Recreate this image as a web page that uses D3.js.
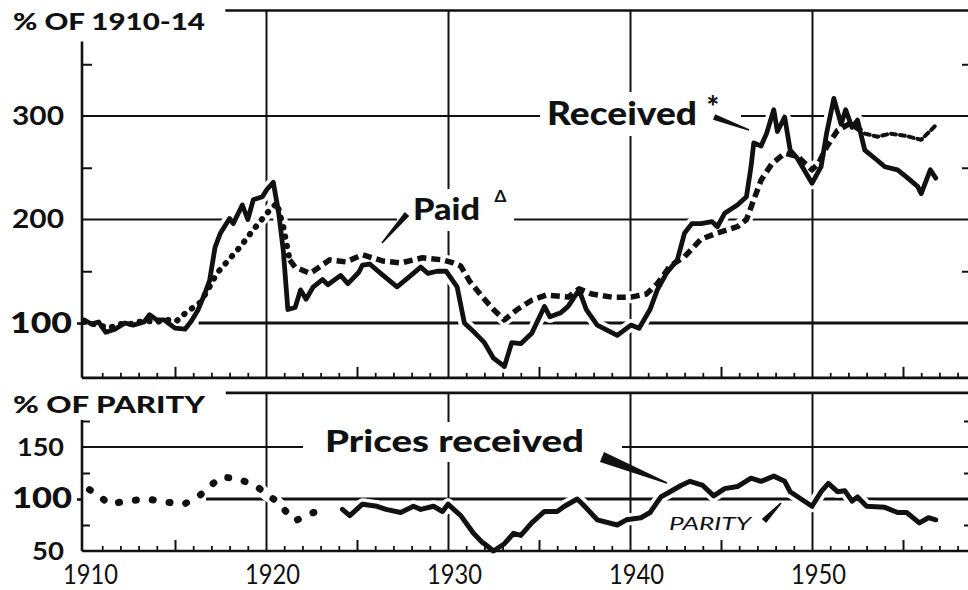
<!DOCTYPE html>
<html>
<head>
<meta charset="utf-8">
<script src="https://cdn.jsdelivr.net/npm/d3@7"></script>
<style>
  body { margin: 0; background: #fff; }
  svg { display: block; }
</style>
</head>
<body>
<script>
var w = 968, h = 590;
var FONT = "Lato, 'DejaVu Sans', sans-serif";
var INK = "#111";

// prices received by farmers, % of 1910-14
var receivedYears = [1910.0,1910.4,1910.8,1911.2,1911.7,1912.25,1912.7,1913.3,1913.6,1914.0,1914.4,1915.0,1915.55,1915.9,1916.25,1916.65,1916.9,1917.2,1917.5,1918.0,1918.2,1918.7,1919.0,1919.3,1919.8,1920.05,1920.4,1920.7,1920.95,1921.2,1921.6,1921.9,1922.2,1922.6,1923.1,1923.4,1924.1,1924.5,1925.1,1925.3,1925.7,1926.3,1927.2,1927.9,1928.5,1928.9,1929.4,1929.9,1930.5,1930.9,1931.5,1932.0,1932.5,1933.1,1933.5,1934.0,1934.6,1935.3,1935.6,1936.2,1936.6,1937.2,1937.6,1938.2,1939.3,1940.05,1940.5,1941.1,1941.5,1942.0,1942.6,1943.0,1943.4,1943.9,1944.5,1944.8,1945.2,1945.9,1946.4,1946.65,1946.8,1947.2,1947.5,1947.9,1948.1,1948.5,1948.8,1949.2,1950.0,1950.5,1950.8,1951.2,1951.6,1951.85,1952.2,1952.5,1952.9,1953.6,1954.0,1954.7,1955.2,1955.8,1956.0,1956.5,1956.8];
var receivedIdx = [103,99,101,91,94,100,98,101,108,103,103,95,94,102,112,129,141,173,187,201,196,214,200,219,222,229,236,206,170,113,115,132,123,135,142,137,146,138,149,156,157,148,135,145,154,148,150,150,135,100,90,81,66,58,81,80,90,116,106,110,116,132,113,98,88,98,95,113,132,148,161,187,196,196,198,193,206,214,222,251,274,271,283,306,285,299,267,259,235,251,283,317,292,306,289,296,267,257,251,248,241,232,225,248,240];

// prices paid by farmers, % of 1910-14
var paidYears = [1910.0,1910.5,1911.0,1911.5,1912.0,1912.5,1913.0,1913.5,1914.0,1914.6,1915.1,1915.6,1916.4,1916.9,1917.3,1917.8,1918.6,1919.3,1920.05,1920.6,1920.95,1921.3,1921.6,1922.4,1922.6,1923.5,1924.4,1925.3,1926.4,1927.4,1928.6,1929.7,1930.3,1930.7,1931.2,1931.9,1932.5,1933.1,1933.8,1934.6,1935.4,1936.6,1937.2,1937.9,1939.0,1940.05,1940.9,1941.5,1942.2,1943.0,1943.9,1944.8,1945.9,1946.4,1946.8,1947.2,1947.8,1948.5,1949.2,1950.0,1950.35,1950.8,1951.4,1952.1,1952.9,1953.6,1954.3,1955.1,1956.0,1956.8];
var paidIdx = [101,99,97,96,99,99,101,102,101,103,102,110,120,135,148,158,174,190,206,216,193,161,154,148,150,161,159,166,160,158,163,161,158,155,140,125,113,103,113,122,127,125,133,128,125,125,128,138,155,164,181,187,193,200,219,238,254,264,261,248,254,270,286,293,283,280,283,281,277,291];

// prices received as % of parity
var parityYears = [1910.3,1910.9,1911.4,1912.3,1913.5,1914.5,1915.5,1916.4,1916.9,1917.5,1918.4,1919.5,1920.05,1920.5,1921.15,1921.6,1922.6,1923.5,1924.2,1924.6,1925.3,1926.1,1926.6,1927.4,1928.1,1928.5,1929.2,1929.7,1930.0,1930.7,1931.4,1931.9,1932.0,1932.5,1933.1,1933.6,1934.0,1934.6,1935.3,1936.0,1936.4,1937.1,1937.4,1938.2,1939.3,1939.8,1940.6,1941.1,1941.7,1942.2,1942.8,1943.3,1944.0,1944.6,1945.2,1945.9,1946.65,1947.2,1947.9,1948.5,1948.8,1949.4,1950.0,1950.5,1950.9,1951.4,1951.8,1952.2,1952.5,1953.0,1954.0,1954.7,1955.2,1955.9,1956.4,1956.8];
var parityPct = [109,102,95,98,100,97,95,104,112,121,120,112,104,99,87,79,87,89,90,84,95,93,90,87,93,90,93,88,95,84,67,58,57,50,57,67,65,77,88,88,93,100,95,80,75,80,82,87,102,107,113,117,113,103,110,112,120,117,122,117,107,100,93,107,115,107,108,98,102,93,92,87,87,77,82,80];

var decades = [1910, 1920, 1930, 1940, 1950];
var indexTicks = [100, 200, 300];
var indexMinor = [150, 250, 350];
var parityTicks = [50, 100, 150];
var parityMinor = [75, 125, 175];

var x = d3.scaleLinear().domain([1910, 1950]).range([84, 812]);
var yTop = d3.scaleLinear().domain([100, 300]).range([323, 116]);
var yBot = d3.scaleLinear().domain([50, 150]).range([551, 447]);

var X0 = x(1910) - 2;
var topPanel = {y: yTop, min: 47, max: 402, axisTop: 372};
var botPanel = {y: yBot, min: 50, max: 202, axisTop: 176};

var years = d3.range(1910, 1959);

var svg = d3.select("body").append("svg")
  .attr("width", w)
  .attr("height", h);

var gGrid = svg.append("g");
var gBg = svg.append("g");
var gHalo = svg.append("g");
var gAxis = svg.append("g");
var gLines = svg.append("g");
var gText = svg.append("g");

function pairs(xs, vs) {
  return xs.map(function (d, i) { return [d, vs[i]]; });
}
function between(data, a, b) {
  return data.filter(function (d) { return d[0] >= a && d[0] <= b; });
}

function drawFrame(p) {
  var yb = p.y(p.min), yt = p.y(p.max);
  // vertical decade grid
  gGrid.append("g")
    .attr("transform", "translate(0," + yb + ")")
    .call(d3.axisBottom(x).tickValues(decades.slice(1)).tickSize(-(yb - yt)).tickFormat(""))
    .call(function (g) { g.select(".domain").remove(); })
    .selectAll("line").attr("stroke", INK).attr("stroke-width", 2);
  // left axis line
  gAxis.append("line")
    .attr("x1", X0).attr("x2", X0)
    .attr("y1", p.y(p.axisTop)).attr("y2", yb)
    .attr("stroke", INK).attr("stroke-width", 2.6);
  // bottom axis line
  gAxis.append("line")
    .attr("x1", X0).attr("x2", w)
    .attr("y1", yb).attr("y2", yb)
    .attr("stroke", INK).attr("stroke-width", 2.6);
  // yearly ticks
  gAxis.append("g")
    .attr("transform", "translate(0," + yb + ")")
    .call(d3.axisBottom(x).tickValues(years.filter(function (d) { return d % 5 !== 0; })).tickSize(-5).tickFormat(""))
    .call(function (g) { g.select(".domain").remove(); })
    .selectAll("line").attr("stroke", INK).attr("stroke-width", 1.8);
  gAxis.append("g")
    .attr("transform", "translate(0," + yb + ")")
    .call(d3.axisBottom(x).tickValues(years.filter(function (d) { return d % 10 === 5; })).tickSize(-11).tickFormat(""))
    .call(function (g) { g.select(".domain").remove(); })
    .selectAll("line").attr("stroke", INK).attr("stroke-width", 2);
}

drawFrame(topPanel);
drawFrame(botPanel);

// horizontal grid
function hGrid(p, v, from) {
  gGrid.append("line")
    .attr("x1", from).attr("x2", w)
    .attr("y1", p.y(v)).attr("y2", p.y(v))
    .attr("stroke", INK).attr("stroke-width", v === 100 ? 2.8 : 2);
}
hGrid(topPanel, 300, X0);
hGrid(topPanel, 200, X0);
hGrid(topPanel, 100, x(1916.3));
hGrid(botPanel, 150, X0);
hGrid(botPanel, 100, x(1916.7));

// minor ticks, left (inward) and right edge
function minorTicks(p, vals, len) {
  gAxis.append("g")
    .attr("transform", "translate(" + X0 + ",0)")
    .call(d3.axisLeft(p.y).tickValues(vals).tickSize(-len).tickFormat(""))
    .call(function (g) { g.select(".domain").remove(); })
    .selectAll("line").attr("stroke", INK).attr("stroke-width", 2);
  gAxis.append("g")
    .attr("transform", "translate(" + (w + 4) + ",0)")
    .call(d3.axisRight(p.y).tickValues(vals).tickSize(-len).tickFormat(""))
    .call(function (g) { g.select(".domain").remove(); })
    .selectAll("line").attr("stroke", INK).attr("stroke-width", 2);
  gAxis.append("g")
    .attr("transform", "translate(" + X0 + ",0)")
    .call(d3.axisLeft(p.y).tickValues([100]).tickSize(5).tickFormat(""))
    .call(function (g) { g.select(".domain").remove(); })
    .selectAll("line").attr("stroke", INK).attr("stroke-width", 2.6);
}
minorTicks(topPanel, indexMinor, 10);
minorTicks(botPanel, parityMinor, 8);

// y labels
function yLabels(p, vals, size, lens) {
  gText.append("g")
    .attr("transform", "translate(" + X0 + ",0)")
    .call(d3.axisLeft(p.y).tickValues(vals).tickSize(0).tickPadding(18))
    .call(function (g) { g.select(".domain").remove(); })
    .selectAll("text")
    .attr("fill", INK)
    .attr("font-family", FONT)
    .attr("font-size", function (d) { return d === 100 ? size + 3 : size; })
    .attr("font-weight", function (d) { return d === 100 ? 900 : 700; })
    .attr("x", function (d) { return d === 100 ? -10 : -18; })
    .attr("textLength", function (d, i) { return lens[i]; })
    .attr("lengthAdjust", "spacingAndGlyphs");
}
yLabels(topPanel, indexTicks, 26, [62, 52, 52]);
yLabels(botPanel, parityTicks, 25, [32, 60, 47]);

// x labels
gText.append("g")
  .attr("transform", "translate(0," + yBot(50) + ")")
  .call(d3.axisBottom(x).tickValues(decades).tickSize(0).tickPadding(15).tickFormat(d3.format("d")))
  .call(function (g) { g.select(".domain").remove(); })
  .selectAll("text")
  .attr("fill", INK)
  .attr("font-family", FONT)
  .attr("font-size", 26)
  .attr("dx", 6)
  .attr("textLength", 55)
  .attr("lengthAdjust", "spacingAndGlyphs");

// panel titles and top borders
function title(p, txt, len) {
  var t = gText.append("text")
    .attr("x", 13).attr("y", p.y(p.max) + 20)
    .attr("font-family", FONT).attr("font-weight", 900).attr("font-size", 22)
    .attr("fill", INK)
    .attr("textLength", len).attr("lengthAdjust", "spacingAndGlyphs")
    .text(txt);
  var bb = t.node().getBBox();
  gAxis.append("line")
    .attr("x1", bb.x + bb.width + 20).attr("x2", w)
    .attr("y1", p.y(p.max)).attr("y2", p.y(p.max))
    .attr("stroke", INK).attr("stroke-width", 2.6);
}
title(topPanel, "% OF 1910-14", 192);
title(botPanel, "% OF PARITY", 192);

// series
var line = function (p) {
  return d3.line().x(function (d) { return x(d[0]); }).y(function (d) { return p.y(d[1]); });
};
var received = pairs(receivedYears, receivedIdx);
var paid = pairs(paidYears, paidIdx);
var parity = pairs(parityYears, parityPct);

[[received, topPanel], [paid, topPanel], [parity, botPanel]].forEach(function (s) {
  gHalo.append("path")
    .attr("d", line(s[1])(s[0]))
    .attr("fill", "none").attr("stroke", "#fff").attr("stroke-width", 12)
    .attr("stroke-linejoin", "round").attr("stroke-linecap", "round");
});

var paidStyles = [
  {from: 1910, to: 1921.3, width: 6, dash: "0.5,9", cap: "round"},
  {from: 1921.3, to: 1952.9, width: 5.5, dash: "9,5", cap: "butt"},
  {from: 1952.9, to: 1957, width: 4, dash: "5,4", cap: "round"}
];
paidStyles.forEach(function (s) {
  gLines.append("path")
    .attr("d", line(topPanel)(between(paid, s.from, s.to)))
    .attr("fill", "none").attr("stroke", INK)
    .attr("stroke-width", s.width).attr("stroke-dasharray", s.dash)
    .attr("stroke-linecap", s.cap).attr("stroke-linejoin", "round");
});

gLines.append("path")
  .attr("d", line(topPanel)(received))
  .attr("fill", "none").attr("stroke", INK).attr("stroke-width", 4.8)
  .attr("stroke-linejoin", "round").attr("stroke-linecap", "round");

gLines.append("path")
  .attr("d", line(botPanel)(between(parity, 1910, 1923.6)))
  .attr("fill", "none").attr("stroke", INK).attr("stroke-width", 7)
  .attr("stroke-dasharray", "1,16").attr("stroke-linecap", "round");
gLines.append("path")
  .attr("d", line(botPanel)(between(parity, 1924, 1957)))
  .attr("fill", "none").attr("stroke", INK).attr("stroke-width", 5)
  .attr("stroke-linejoin", "round").attr("stroke-linecap", "round");

// annotations
var labels = [
  {p: topPanel, yr: 1935.44, v: 291.3, txt: "Received", size: 33, len: 150, padL: 7, padR: 44},
  {p: topPanel, yr: 1944.2, v: 298, txt: "*", size: 30},
  {p: topPanel, yr: 1928.08, v: 199.5, txt: "Paid", size: 31, len: 67, padL: 16, padR: 34},
  {p: topPanel, yr: 1932.55, v: 216.5, txt: "\u0394", size: 17, weight: 700},
  {p: botPanel, yr: 1923.24, v: 145.2, txt: "Prices received", size: 30, len: 259, padL: 22, padR: 38},
  {p: botPanel, yr: 1942.14, v: 70.2, txt: "PARITY", size: 18, len: 82, italic: true, weight: 400}
];
labels.forEach(function (l) {
  var t = gText.append("text")
    .attr("x", x(l.yr)).attr("y", l.p.y(l.v))
    .attr("font-family", FONT)
    .attr("font-weight", l.weight || 900)
    .attr("font-style", l.italic ? "italic" : "normal")
    .attr("font-size", l.size)
    .attr("fill", INK)
    .text(l.txt);
  if (l.len) t.attr("textLength", l.len).attr("lengthAdjust", "spacingAndGlyphs");
  if (l.padL !== undefined) {
    var bb = t.node().getBBox();
    gBg.append("rect")
      .attr("x", bb.x - l.padL).attr("y", bb.y)
      .attr("width", bb.width + l.padL + l.padR).attr("height", bb.height + 4)
      .attr("fill", "#fff");
  }
});

var pointers = [
  {p: topPanel, x0: 1944.62, v0: 299, x1: 1946.54, v1: 286.5, w: 6},
  {p: topPanel, x0: 1927.75, v0: 205.3, x1: 1926.37, v1: 177.3, w: 6},
  {p: botPanel, x0: 1938.46, v0: 140.4, x1: 1942.03, v1: 115.4, w: 11},
  {p: botPanel, x0: 1947.36, v0: 78.8, x1: 1948.3, v1: 96.2, w: 6}
];
function wedge(d) {
  var ax = x(d.x0), ay = d.p.y(d.v0), bx = x(d.x1), by = d.p.y(d.v1);
  var dx = bx - ax, dy = by - ay, L = Math.sqrt(dx * dx + dy * dy);
  var nx = -dy / L, ny = dx / L, a = d.w / 2, b = 0.8;
  return "M" + (ax + nx * a) + "," + (ay + ny * a) +
    "L" + (bx + nx * b) + "," + (by + ny * b) +
    "L" + (bx - nx * b) + "," + (by - ny * b) +
    "L" + (ax - nx * a) + "," + (ay - ny * a) + "Z";
}
gText.selectAll("path.pointer")
  .data(pointers)
  .enter()
  .append("path")
  .attr("class", "pointer")
  .attr("d", wedge)
  .attr("fill", INK);
</script>
</body>
</html>
